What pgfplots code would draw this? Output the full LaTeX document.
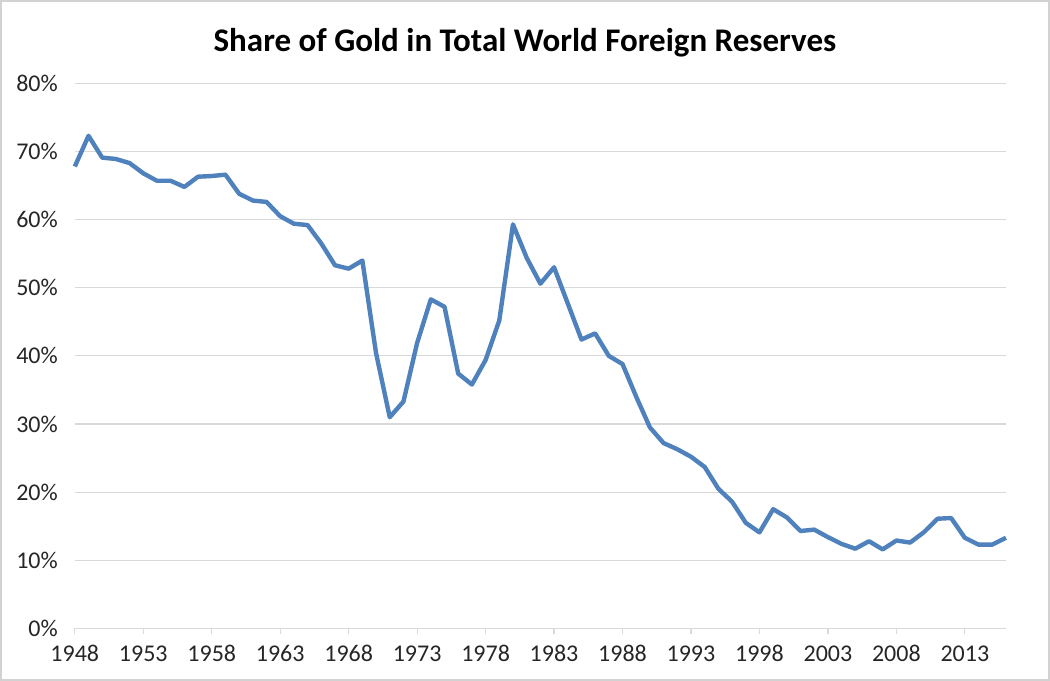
\documentclass[border=0pt]{standalone}
\usepackage{pgfplots}
\pgfplotsset{compat=1.18}
\usepackage{fontspec}
\setmainfont{Carlito}
\definecolor{xlblue}{HTML}{4F81BD}
\definecolor{gridgray}{HTML}{D9D9D9}

\begin{document}
\begin{tikzpicture}
\begin{axis}[
    scale only axis,
    width=465.5pt, height=272.5pt,
    xmin=1948, xmax=2016,
    ymin=0, ymax=80,
    xtick={1948,1953,...,2013},
    ytick={0,10,...,80},
    yticklabel={\pgfmathprintnumber{\tick}\%},
    /pgf/number format/1000 sep={},
    /pgf/number format/assume math mode=true,
    ymajorgrids,
    major grid style={gridgray, line width=0.6pt},
    axis x line*=bottom,
    axis y line*=left,
    x axis line style={gridgray, line width=0.6pt, -},
    y axis line style={draw=none},
    x tick style={gridgray, line width=0.6pt},
    tick align=outside,
    major tick length=3pt,
    ytick style={draw=none},
    ticklabel style={font=\fontsize{12}{14}\selectfont, text=black!85},
    xticklabel style={yshift=-2pt},
    yticklabel style={xshift=-2pt},
    clip=false,
]
\addplot[xlblue, line width=2.2pt, line join=round] coordinates {
(1948,67.8) (1949,72.3) (1950,69.1) (1951,68.9) (1952,68.3) (1953,66.8)
(1954,65.7) (1955,65.7) (1956,64.8) (1957,66.3) (1958,66.4) (1959,66.6)
(1960,63.8) (1961,62.8) (1962,62.6) (1963,60.5) (1964,59.4) (1965,59.2)
(1966,56.5) (1967,53.3) (1968,52.8) (1969,54.0) (1970,40.4) (1971,31.0)
(1972,33.3) (1973,41.9) (1974,48.3) (1975,47.2) (1976,37.4) (1977,35.8)
(1978,39.4) (1979,45.2) (1980,59.3) (1981,54.4) (1982,50.6) (1983,53.0)
(1984,47.7) (1985,42.4) (1986,43.3) (1987,40.0) (1988,38.8) (1989,34.0)
(1990,29.5) (1991,27.2) (1992,26.3) (1993,25.2) (1994,23.7) (1995,20.5)
(1996,18.6) (1997,15.5) (1998,14.1) (1999,17.5) (2000,16.3) (2001,14.3)
(2002,14.5) (2003,13.4) (2004,12.4) (2005,11.7) (2006,12.8) (2007,11.6)
(2008,12.9) (2009,12.6) (2010,14.1) (2011,16.1) (2012,16.2) (2013,13.3)
(2014,12.3) (2015,12.3) (2016,13.3)
};
\node[font=\bfseries\fontsize{16.5}{20}\selectfont, anchor=center]
    at (rel axis cs:0.4834,1.075) {Share of Gold in Total World Foreign Reserves};
\draw[gray!35, line width=0.8pt]
    (rel axis cs:-0.0795,-0.0945) rectangle (rel axis cs:1.0465,1.1515);
\end{axis}
\end{tikzpicture}
\end{document}
